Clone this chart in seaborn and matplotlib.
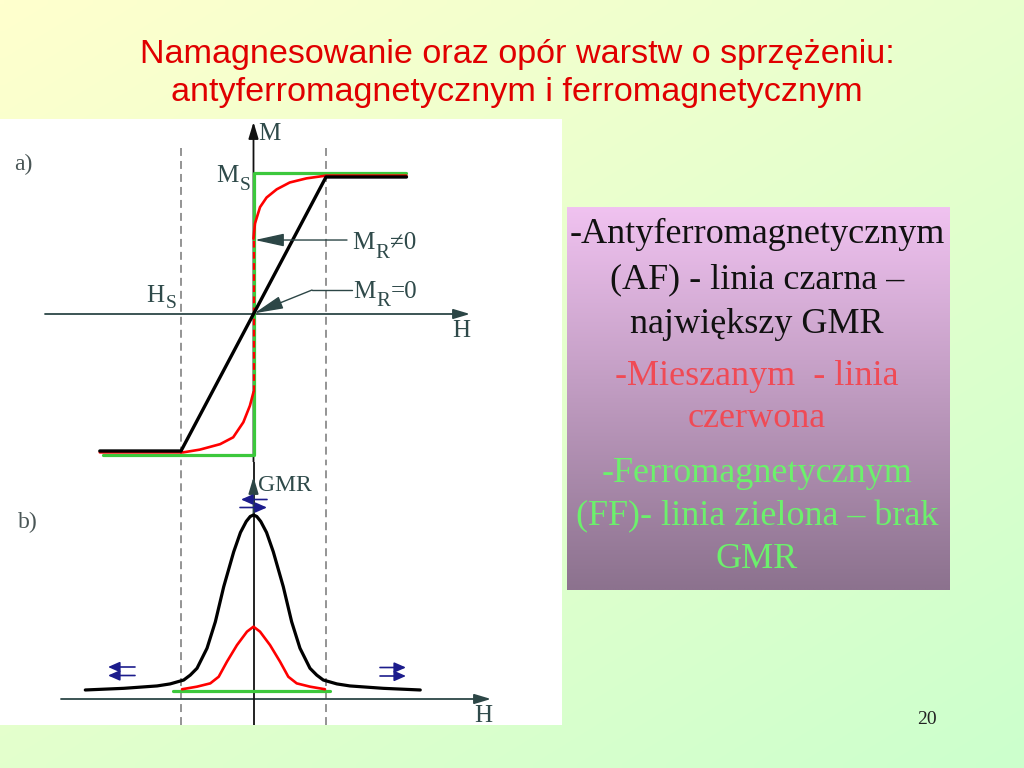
import numpy as np
import matplotlib
matplotlib.use("Agg")
import matplotlib.pyplot as plt
import seaborn as sns

# ------------------------------------------------------------------ data
# panel a): magnetisation M(H)  (H in units of H_S, M in units of M_S)
H_af_a = [-2.12, -1.0, 1.0, 2.11]
M_af_a = [-1.0, -1.0, 1.0, 1.0]
H_ff_a = [-2.08, 0.0, 0.0, 2.11]
M_ff_a = [-1.03, -1.03, 1.03, 1.03]
H_mix_up = [0.0, 0.02, 0.09, 0.18, 0.32, 0.50, 0.73, 1.0, 2.11]
M_mix_up = [0.55, 0.66, 0.78, 0.85, 0.91, 0.96, 0.99, 1.01, 1.01]
H_mix_lo = [-2.12, -0.97, -0.74, -0.46, -0.28, -0.14, -0.05, 0.0]
M_mix_lo = [-1.01, -1.01, -0.99, -0.95, -0.90, -0.79, -0.67, -0.57]
H_mix_jump = [0.0, 0.0]
M_mix_jump = [-0.57, 0.55]

# panel b): GMR(H)
H_af_b = [-2.32, -1.79, -1.33, -1.15, -0.963, -0.872, -0.779, -0.641, -0.526,
          -0.411, -0.273, -0.18, -0.10, -0.045, 0.0, 0.045, 0.10, 0.18, 0.273,
          0.411, 0.526, 0.641, 0.779, 0.872, 0.963, 1.15, 1.33, 1.79, 2.30]
G_af_b = [0.049, 0.058, 0.071, 0.082, 0.103, 0.130, 0.167, 0.276, 0.420,
          0.610, 0.800, 0.905, 0.965, 0.992, 1.0, 0.992, 0.965, 0.905, 0.800,
          0.610, 0.420, 0.276, 0.167, 0.130, 0.103, 0.082, 0.071, 0.058, 0.049]
H_mix_b = [-0.986, -0.78, -0.596, -0.48, -0.366, -0.228, -0.09, 0.0,
           0.09, 0.228, 0.366, 0.48, 0.596, 0.78, 0.986]
G_mix_b = [0.053, 0.067, 0.085, 0.121, 0.203, 0.293, 0.366, 0.393,
           0.366, 0.293, 0.203, 0.121, 0.085, 0.067, 0.053]
H_ff_b = [-1.11, 1.055]
G_ff_b = [0.045, 0.045]
H_sat = [-1.0, 1.0]

title_lines = ["Namagnesowanie oraz opór warstw o sprzężeniu:",
               "antyferromagnetycznym i ferromagnetycznym"]
box_lines = ["-Antyferromagnetycznym", "(AF) - linia czarna \u2013",
             "największy GMR", "-Mieszanym  - linia", "czerwona",
             "-Ferromagnetycznym", "(FF)- linia zielona \u2013 brak", "GMR"]
box_groups = ["AF", "AF", "AF", "MIX", "MIX", "FF", "FF", "FF"]
page_no = "20"

# ------------------------------------------------------------------ style
sns.set_style("white")
plt.rcParams["font.family"] = ["Liberation Serif", "DejaVu Serif"]

W, H = 1024, 768
BLACK, RED, GREEN = "#000000", "#FF0000", "#3CC83C"
AXC = "#2C4646"
TXT = "#2F4A4A"
group_color = {"AF": "#111111", "MIX": "#F04A55", "FF": "#6CF06C"}

fig = plt.figure(figsize=(10.24, 7.68), dpi=100)


def fx(px):
    return px / W


def fy(py):
    return 1 - py / H


# background gradient (yellow -> green)
bg = fig.add_axes([0, 0, 1, 1])
yy, xx = np.mgrid[0:1:96j, 0:1:128j]
t = 0.45 * xx + 0.55 * yy
c0 = np.array([255, 255, 206]) / 255
c1 = np.array([204, 255, 204]) / 255
img = c0[None, None, :] * (1 - t[..., None]) + c1[None, None, :] * t[..., None]
bg.imshow(img, extent=[0, 1, 0, 1], aspect="auto", origin="upper",
          interpolation="bilinear")
bg.axis("off")

# geometry of the diagram (pixel mapping)
X0, SX = 253.5, 72.5
Y0a, SYa = 314.0, 137.0
Y0b, SYb = 699.0, 184.0
PL, PR, PT, PM, PB = 0, 562, 119, 462, 725

axA = fig.add_axes([fx(PL), fy(PM), (PR - PL) / W, (PM - PT) / H])
axB = fig.add_axes([fx(PL), fy(PB), (PR - PL) / W, (PB - PM) / H])
for ax in (axA, axB):
    ax.set_facecolor("white")
    ax.set_xticks([])
    ax.set_yticks([])
    for s in ax.spines.values():
        s.set_visible(False)

xlim = ((PL - X0) / SX, (PR - X0) / SX)
ylimA = ((Y0a - PM) / SYa, (Y0a - PT) / SYa)
ylimB = ((Y0b - PB) / SYb, (Y0b - PM) / SYb)

# ---------------- panel a
dash = (0, (5.2, 3.3))
for hs in H_sat:
    axA.plot([hs, hs], [(Y0a - 148) / SYa, ylimA[0]], color="#777777",
             lw=1.1, ls=dash, zorder=1)
    axB.plot([hs, hs], [ylimB[0], ylimB[1]], color="#777777",
             lw=1.1, ls=dash, zorder=1)

axA.annotate("", xy=((470 - X0) / SX, 0), xytext=((45 - X0) / SX, 0),
             arrowprops=dict(arrowstyle="-|>,head_length=0.5,head_width=0.15",
                             mutation_scale=20, color=AXC, lw=1.3,
                             shrinkA=0, shrinkB=0), zorder=2)
axA.annotate("", xy=(0, (Y0a - 122) / SYa), xytext=(0, ylimA[0]),
             arrowprops=dict(arrowstyle="-|>,head_length=0.5,head_width=0.15",
                             mutation_scale=20, color="#111111", lw=1.3,
                             shrinkA=0, shrinkB=0), zorder=2)

sns.lineplot(x=H_ff_a, y=M_ff_a, ax=axA, sort=False, estimator=None,
             color=GREEN, lw=2.3, zorder=3)
sns.lineplot(x=H_mix_up, y=M_mix_up, ax=axA, sort=False, estimator=None,
             color=RED, lw=1.9, zorder=4)
sns.lineplot(x=H_mix_lo, y=M_mix_lo, ax=axA, sort=False, estimator=None,
             color=RED, lw=1.9, zorder=4)
sns.lineplot(x=H_mix_jump, y=M_mix_jump, ax=axA, sort=False, estimator=None,
             color=RED, lw=1.6, linestyle=(0, (3, 2)), zorder=4)
sns.lineplot(x=H_af_a, y=M_af_a, ax=axA, sort=False, estimator=None,
             color=BLACK, lw=2.4, zorder=5)

# remanence leaders
axA.annotate("", xy=(0.02, 0.54), xytext=((347 - X0) / SX, 0.54),
             arrowprops=dict(arrowstyle="-|>,head_length=1.0,head_width=0.22",
                             mutation_scale=18, color=AXC, lw=1.0,
                             shrinkA=0, shrinkB=0), zorder=6)
axA.plot([(352 - X0) / SX, (312 - X0) / SX], [0.175, 0.175], color=AXC,
         lw=1.0, zorder=6)
axA.annotate("", xy=(0.01, 0.005), xytext=((312 - X0) / SX, 0.175),
             arrowprops=dict(arrowstyle="-|>,head_length=1.0,head_width=0.22",
                             mutation_scale=18, color=AXC, lw=1.0,
                             shrinkA=0, shrinkB=0), zorder=6)

# ---------------- panel b
axB.annotate("", xy=((491 - X0) / SX, 0), xytext=((61 - X0) / SX, 0),
             arrowprops=dict(arrowstyle="-|>,head_length=0.5,head_width=0.15",
                             mutation_scale=20, color=AXC, lw=1.3,
                             shrinkA=0, shrinkB=0), zorder=2)
axB.plot([0, 0], [ylimB[0], ylimB[1]], color="#111111", lw=1.3, zorder=2)
axB.annotate("", xy=(0, (Y0b - 477) / SYb), xytext=(0, 1.0),
             arrowprops=dict(arrowstyle="-|>,head_length=0.5,head_width=0.15",
                             mutation_scale=20, color=AXC, lw=1.3,
                             shrinkA=0, shrinkB=0), zorder=2)

sns.lineplot(x=H_af_b, y=G_af_b, ax=axB, sort=False, estimator=None,
             color=BLACK, lw=2.3, zorder=4)
sns.lineplot(x=H_mix_b, y=G_mix_b, ax=axB, sort=False, estimator=None,
             color=RED, lw=1.9, zorder=4)
sns.lineplot(x=H_ff_b, y=G_ff_b, ax=axB, sort=False, estimator=None,
             color=GREEN, lw=2.3, zorder=3)

# spin-orientation arrows
NAVY = "#1C1C8C"
sarrow = dict(arrowstyle="-|>,head_length=0.5,head_width=0.22",
              mutation_scale=14, color=NAVY, lw=1.2, shrinkA=0, shrinkB=0)


def spin(ax, x_from, x_to, yv):
    ax.annotate("", xy=(x_to, yv), xytext=(x_from, yv), arrowprops=sarrow,
                zorder=7)


spin(axB, (267 - X0) / SX, (241 - X0) / SX, (Y0b - 499.5) / SYb)
spin(axB, (240 - X0) / SX, (267 - X0) / SX, (Y0b - 507.5) / SYb)
for py in (667, 675.5):
    spin(axB, (135 - X0) / SX, (108 - X0) / SX, (Y0b - py) / SYb)
    spin(axB, (380 - X0) / SX, (406 - X0) / SX, (Y0b - py - 0.5) / SYb)

for ax, yl in ((axA, ylimA), (axB, ylimB)):
    ax.set_xlim(*xlim)
    ax.set_ylim(*yl)
    ax.set_xlabel("")
    ax.set_ylabel("")

# ---------------- diagram labels


def lab(px, py, s, size=18, color=TXT):
    fig.text(fx(px), fy(py), s, fontsize=size, color=color, ha="left",
             va="baseline", zorder=10)


lab(14, 170, "a)", 17, "#4A5656")
lab(18, 528, "b)", 17, "#4A5656")
lab(258, 140, "M")
lab(216, 182, "M")
lab(240, 190, "S", 14)
lab(146, 302, "H")
lab(166, 308, "S", 14)
lab(352, 249, "M")
lab(375, 258, "R", 15)
lab(390, 249, "\u22600")
lab(353, 298, "M")
lab(376, 306, "R", 15)
lab(391, 298, "=0")
lab(452, 337, "H")
lab(258, 491, "GMR", 17)
lab(474, 722, "H")

# ---------------- text box with gradient
axT = fig.add_axes([fx(567), fy(590), 383 / W, 383 / H])
tt = np.linspace(0, 1, 128)[:, None]
top = np.array([240, 194, 240]) / 255
bot = np.array([140, 114, 142]) / 255
gimg = (top[None, :] * (1 - tt) + bot[None, :] * tt)[:, None, :]
axT.imshow(np.repeat(gimg, 4, axis=1), extent=[0, 1, 0, 1], aspect="auto",
           origin="upper", interpolation="bilinear")
axT.axis("off")

box_base = [243, 288, 333, 385, 427, 482, 525, 568]
for s, g, by in zip(box_lines, box_groups, box_base):
    fig.text(fx(757), fy(by), s, fontsize=26, color=group_color[g],
             ha="center", va="baseline", zorder=10)

# ---------------- title and page number
for s, by in zip(title_lines, [63, 101]):
    fig.text(fx(517), fy(by), s, fontsize=24.6, color="#E00000",
             family=["Liberation Sans", "DejaVu Sans"], ha="center",
             va="baseline", zorder=10)
fig.text(fx(917), fy(724), page_no, fontsize=14, color="#222222",
         ha="left", va="baseline", zorder=10)

fig.savefig("out.png", dpi=100)
